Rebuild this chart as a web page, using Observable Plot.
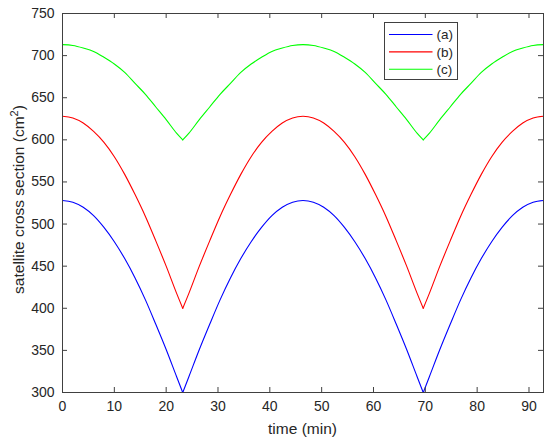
<!DOCTYPE html>
<html>
<head>
<meta charset="utf-8">
<script src="https://cdn.jsdelivr.net/npm/d3@7"></script>
<script src="https://cdn.jsdelivr.net/npm/@observablehq/plot@0.6"></script>
<style>
  body { margin: 0; background: white; }
  #chart svg { display: block; }
</style>
</head>
<body>
<div id="chart"></div>
<script>
// time samples (min)
const times = [0, 2, 4, 6, 8, 10, 12, 14, 16, 18, 20, 22, 23.2, 24.4, 26.4, 28.4, 30.4, 32.4, 34.4, 36.4, 38.4, 40.4, 42.4, 44.4, 46.4,
  48.4, 50.4, 52.4, 54.4, 56.4, 58.4, 60.4, 62.4, 64.4, 66.4, 68.4, 69.6, 70.8, 72.8, 74.8, 76.8, 78.8, 80.8, 82.8, 84.8, 86.8, 88.8, 90.8, 92.8];

// cross section (cm^2)
const seriesA = [528, 526, 520, 510, 496, 479, 459, 436, 410, 381, 351, 319, 300, 319, 351, 381, 410, 436, 459, 479, 496, 510, 520, 526, 528,
  526, 520, 510, 496, 479, 459, 436, 410, 381, 351, 319, 300, 319, 351, 381, 410, 436, 459, 479, 496, 510, 520, 526, 528];
const seriesB = [628, 626, 620, 610, 597, 580, 559, 535, 509, 480, 450, 418, 400, 418, 450, 480, 509, 535, 559, 580, 597, 610, 620, 626, 628,
  626, 620, 610, 597, 580, 559, 535, 509, 480, 450, 418, 400, 418, 450, 480, 509, 535, 559, 580, 597, 610, 620, 626, 628];
const seriesC = [713, 712, 709, 705, 698, 690, 680, 667, 654, 639, 624, 608, 600, 608, 624, 639, 654, 667, 680, 690, 698, 705, 709, 712, 713,
  712, 709, 705, 698, 690, 680, 667, 654, 639, 624, 608, 600, 608, 624, 639, 654, 667, 680, 690, 698, 705, 709, 712, 713];

// times where the curves have a sharp minimum
const cusps = [23.2, 69.6];

const names = ["(a)", "(b)", "(c)"];
const colors = ["#0000ff", "#ff0000", "#00ff00"];
const xTicks = [0, 10, 20, 30, 40, 50, 60, 70, 80, 90];
const yTicks = [300, 350, 400, 450, 500, 550, 600, 650, 700, 750];

// split each curve at the cusps so the humps can be smoothed but the minima stay sharp
const data = [];
[seriesA, seriesB, seriesC].forEach((vals, i) => {
  vals.forEach((v, j) => {
    const t = times[j];
    const seg = cusps.filter(c => t > c).length;
    data.push({t: t, v: v, s: names[i], k: names[i] + seg});
    if (cusps.includes(t)) data.push({t: t, v: v, s: names[i], k: names[i] + (seg + 1)});
  });
});

const W = 550, H = 443;
const mL = 62, mR = 7, mT = 13, mB = 51;
const plotH = H - mT - mB, plotW = W - mL - mR;
const axisColor = "#404040";

let chart = Plot.plot({
  width: W,
  height: H,
  marginLeft: mL,
  marginRight: mR,
  marginTop: mT,
  marginBottom: mB,
  style: {
    fontFamily: "'Liberation Sans', Arial, sans-serif",
    fontSize: "14px",
    color: "#262626",
    background: "white",
  },
  x: {domain: [0, 92.8]},
  y: {domain: [300, 750]},
  color: {domain: names, range: colors},
  marks: [
    Plot.line(data, {x: "t", y: "v", z: "k", stroke: "s", strokeWidth: 1.1, curve: "monotone-x"}),
    // inward ticks on all four sides
    Plot.tickX(xTicks, {x: d => d, insetTop: plotH - 5, stroke: axisColor}),
    Plot.tickX(xTicks, {x: d => d, insetBottom: plotH - 5, stroke: axisColor}),
    Plot.tickY(yTicks, {y: d => d, insetRight: plotW - 5, stroke: axisColor}),
    Plot.tickY(yTicks, {y: d => d, insetLeft: plotW - 5, stroke: axisColor}),
    Plot.axisX(xTicks, {anchor: "bottom", tickSize: 0, tickPadding: 9, label: null, fill: "#262626"}),
    Plot.axisY(yTicks, {anchor: "left", tickSize: 0, tickPadding: 8, label: null, fill: "#262626"}),
    Plot.frame({stroke: axisColor}),
  ],
});

const svg = d3.select(chart);

// axis titles
svg.append("text")
  .attr("x", mL + plotW / 2)
  .attr("y", 434)
  .attr("text-anchor", "middle")
  .attr("font-size", "15.5px")
  .attr("fill", "#262626")
  .text("time (min)");

const yt = svg.append("text")
  .attr("transform", `translate(24,${mT + plotH / 2 - 3}) rotate(-90)`)
  .attr("text-anchor", "middle")
  .attr("font-size", "15.5px")
  .attr("fill", "#262626");
yt.append("tspan").text("satellite cross section (cm");
yt.append("tspan").attr("font-size", "11px").attr("dy", "-6").text("2");
yt.append("tspan").attr("dy", "6").text(")");

// legend box
const lg = svg.append("g").attr("transform", "translate(384.5,22.5)");
lg.append("rect")
  .attr("width", 73)
  .attr("height", 57)
  .attr("fill", "white")
  .attr("stroke", axisColor);
names.forEach((n, i) => {
  const yy = 12 + i * 17.4;
  lg.append("line")
    .attr("x1", 4.5).attr("x2", 48)
    .attr("y1", yy).attr("y2", yy)
    .attr("stroke", colors[i])
    .attr("stroke-width", 1.1);
  lg.append("text")
    .attr("x", 52)
    .attr("y", yy)
    .attr("dy", "0.35em")
    .attr("text-anchor", "start")
    .attr("font-size", "13.5px")
    .attr("fill", "#262626")
    .text(n);
});

d3.select("#chart").append(() => chart);
</script>
</body>
</html>
